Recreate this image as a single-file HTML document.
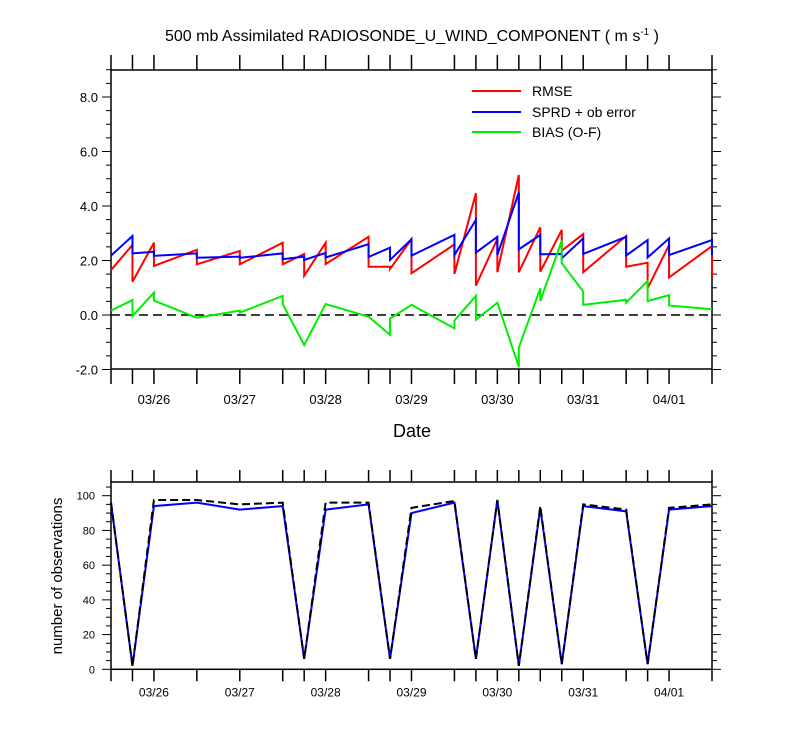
<!DOCTYPE html>
<html><head><meta charset="utf-8">
<style>
body{margin:0;background:#fff;}
svg{display:block;font-family:"Liberation Sans",sans-serif;}
</style></head>
<body>
<svg id="chart" width="800" height="750" xmlns="http://www.w3.org/2000/svg">
<text x="412" y="41" font-size="16" text-anchor="middle">500 mb Assimilated RADIOSONDE_U_WIND_COMPONENT ( m s<tspan font-size="10" dy="-6">-1</tspan><tspan dy="6"> )</tspan></text>
<g id="topPanel"></g>
<g id="botPanel"></g>
<text x="412" y="437" font-size="18" text-anchor="middle">Date</text>
<text transform="translate(62,576) rotate(-90)" font-size="15" text-anchor="middle">number of observations</text>
<g>
<line x1="472" y1="91" x2="521" y2="91" stroke="#f00" stroke-width="2"/>
<text x="532" y="96" font-size="14">RMSE</text>
<line x1="472" y1="112" x2="521" y2="112" stroke="#00f" stroke-width="2"/>
<text x="532" y="117" font-size="14">SPRD + ob error</text>
<line x1="472" y1="132" x2="521" y2="132" stroke="#0e0" stroke-width="2"/>
<text x="532" y="137" font-size="14">BIAS (O-F)</text>
</g>
</svg>
<script>
// hours since 03/25 12Z
const hours=[0,6,12,24,36,48,54,60,72,78,84,96,102,108,114,120,126,132,144,150,156,168];
const dateLabels=["03/26","03/27","03/28","03/29","03/30","03/31","04/01"];
const dateHours=[12,36,60,84,108,132,156];
const rmseA=[1.65,2.57,2.65,2.39,2.35,2.65,2.24,2.65,2.87,1.77,2.78,2.59,4.47,2.79,5.14,3.22,3.12,2.97,2.90,1.92,2.57,2.53];
const rmseB=[1.65,1.22,1.80,1.86,1.86,1.86,1.44,1.87,1.77,1.69,1.53,1.51,1.08,1.57,1.57,1.59,2.36,1.57,1.77,0.98,1.38,1.38];
const sprdA=[2.18,2.90,2.32,2.26,2.14,2.26,2.14,2.28,2.60,2.47,2.78,2.94,3.49,2.87,4.50,2.94,2.24,2.81,2.87,2.75,2.81,2.75];
const sprdB=[2.18,2.26,2.17,2.10,2.10,2.05,2.02,2.11,2.13,2.02,2.18,2.20,2.29,2.20,2.41,2.23,2.08,2.24,2.18,2.11,2.20,2.20];
const biasA=[0.16,0.55,0.82,-0.10,0.16,0.70,-1.10,0.40,-0.06,-0.73,0.37,-0.49,0.70,0.45,-1.90,0.98,2.73,0.86,0.56,1.25,0.73,0.21];
const biasB=[0.16,-0.04,0.53,-0.10,0.09,0.40,-1.10,0.40,-0.06,-0.13,0.37,-0.20,-0.17,0.45,-1.20,0.51,1.90,0.37,0.45,0.51,0.35,0.21];
const obsUsed=[96,2,94,96,92,94,6,92,95,6,90,96,6,97.5,2,93,3,94,91,3,92,94];
const obsTotal=[96,2,97.5,97.5,95,96,6,96,96,6,93,97,6,97.5,2,94,3,95,92,3,93,95];
const topYTicks=[-2,0,2,4,6,8];
const topYLabels=["-2.0","0.0","2.0","4.0","6.0","8.0"];
const botYTicks=[0,20,40,60,80,100];

const NS="http://www.w3.org/2000/svg";
const X0=111,X1=712;
const xs=h=>X0+h*(X1-X0)/168;
const yTop=v=>315-v*27.25;
const yBot=v=>669.3-v*1.736;
function mk(parent,tag,attrs){const e=document.createElementNS(NS,tag);for(const k in attrs)e.setAttribute(k,attrs[k]);parent.appendChild(e);return e;}

function axes(g,yT,yB,ys,ymin,ymax,major,minor,lblSize,tickLen,prefix){
  mk(g,'rect',{x:X0,y:yT,width:X1-X0,height:yB-yT,fill:'none',stroke:'#000','stroke-width':1.5});
  hours.forEach(h=>{
    const x=xs(h);
    const t1=mk(g,'line',{x1:x,y1:yB,x2:x,y2:yB+tickLen,stroke:'#000','stroke-width':1.5});
    
    
    const t2=mk(g,'line',{x1:x,y1:yT,x2:x,y2:yT-tickLen,stroke:'#000','stroke-width':1.5});
    
    
  });
  for(let v=ymin;v<=ymax+1e-9;v+=minor){
    const y=ys(v);const isMaj=Math.abs(v/major-Math.round(v/major))<1e-6;
    const len=isMaj?9:5;
    mk(g,'line',{x1:X0-len,y1:y,x2:X0,y2:y,stroke:'#000','stroke-width':1});
    mk(g,'line',{x1:X1,y1:y,x2:X1+len,y2:y,stroke:'#000','stroke-width':1});
  }
  dateHours.forEach((h,i)=>{
    const t=mk(g,'text',{x:xs(h),y:yB+tickLen+(lblSize>12?20:15),'font-size':lblSize,'text-anchor':'middle'});
    t.textContent=dateLabels[i];
    
    
  });
}
function sawPath(g,A,B,ys,color,name){
  let d='';
  hours.forEach((h,i)=>{const x=xs(h);d+=(i?'L':'M')+x+' '+ys(A[i])+' L'+x+' '+ys(B[i])+' ';});
  const p=mk(g,'path',{d:d,fill:'none',stroke:color,'stroke-width':2,'stroke-linejoin':'miter'});
  
  
}
const topG=document.getElementById('topPanel');
axes(topG,70,369,yTop,-2,9,2,0.5,13,15,'top');
topYTicks.forEach((v,i)=>{
  const t=mk(topG,'text',{x:98,y:yTop(v)+5,'font-size':13,'text-anchor':'end'});
  t.textContent=topYLabels[i];
  
  
});
const zl=mk(topG,'line',{x1:X0,y1:yTop(0),x2:X1,y2:yTop(0),stroke:'#000','stroke-width':1.5,'stroke-dasharray':'9 5'});


sawPath(topG,rmseA,rmseB,yTop,'#f00','rmse-line');
sawPath(topG,sprdA,sprdB,yTop,'#00f','sprd-line');
sawPath(topG,biasA,biasB,yTop,'#0e0','bias-line');

const botG=document.getElementById('botPanel');
axes(botG,482,669.3,yBot,0,105,20,5,12,12,'bottom');
botYTicks.forEach(v=>{
  const t=mk(botG,'text',{x:95,y:yBot(v)+4,'font-size':11,'text-anchor':'end'});
  t.textContent=String(v);
  
  
});
function line(g,vals,color,dash,name){
  const d=hours.map((h,i)=>(i?'L':'M')+xs(h)+' '+yBot(vals[i])).join(' ');
  const p=mk(g,'path',{d:d,fill:'none',stroke:color,'stroke-width':2});
  if(dash)p.setAttribute('stroke-dasharray',dash);
  
  
}
line(botG,obsUsed,'#00f',null,'obs-used-line');
line(botG,obsTotal,'#000','8 4','obs-total-line');
</script>
</body></html>
